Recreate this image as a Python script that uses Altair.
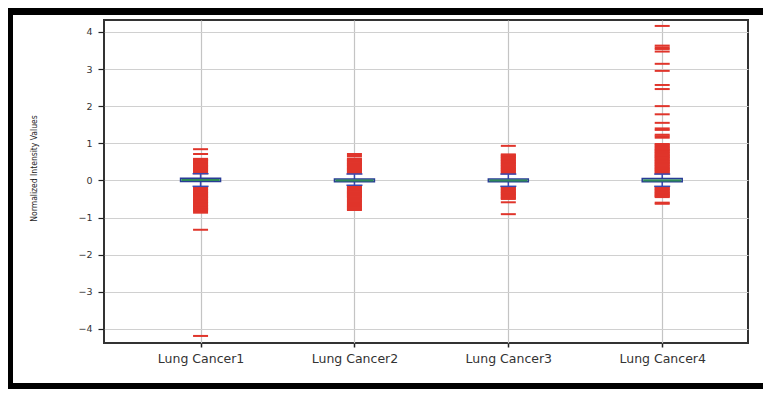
import altair as alt
import pandas as pd

categories = ["Lung Cancer1", "Lung Cancer2", "Lung Cancer3", "Lung Cancer4"]
q1 = [-0.03, -0.04, -0.04, -0.04]
median = [0.01, 0.0, 0.0, 0.0]
q3 = [0.06, 0.04, 0.04, 0.05]
whisk_lo = [-0.16, -0.13, -0.16, -0.16]
whisk_hi = [0.18, 0.17, 0.17, 0.17]

fliers1 = [0.19, 0.21, 0.24, 0.26, 0.28, 0.31, 0.33, 0.35, 0.38, 0.40, 0.42, 0.45,
           0.47, 0.49, 0.52, 0.54, 0.56, 0.58, 0.71, 0.84,
           -0.18, -0.20, -0.23, -0.25, -0.27, -0.30, -0.32, -0.34, -0.37, -0.39,
           -0.41, -0.44, -0.46, -0.48, -0.51, -0.53, -0.55, -0.58, -0.60, -0.62,
           -0.65, -0.67, -0.69, -0.72, -0.74, -0.76, -0.78, -0.80, -0.83, -0.87,
           -1.33, -4.19]
fliers2 = [0.19, 0.21, 0.24, 0.26, 0.28, 0.31, 0.33, 0.35, 0.38, 0.40, 0.42, 0.45,
           0.47, 0.49, 0.52, 0.54, 0.56, 0.59, 0.66, 0.71,
           -0.15, -0.17, -0.20, -0.22, -0.24, -0.27, -0.29, -0.31, -0.34, -0.36,
           -0.38, -0.41, -0.43, -0.45, -0.48, -0.52, -0.55, -0.58, -0.62, -0.65,
           -0.68, -0.71, -0.74, -0.77, -0.80]
fliers3 = [0.19, 0.21, 0.24, 0.26, 0.28, 0.31, 0.33, 0.35, 0.38, 0.40, 0.42, 0.45,
           0.47, 0.49, 0.52, 0.54, 0.56, 0.59, 0.61, 0.63, 0.66, 0.68, 0.70, 0.93,
           -0.18, -0.20, -0.23, -0.25, -0.27, -0.30, -0.32, -0.34, -0.37, -0.39,
           -0.41, -0.44, -0.46, -0.48, -0.50, -0.59, -0.91]
fliers4 = [0.19, 0.21, 0.24, 0.26, 0.28, 0.31, 0.33, 0.35, 0.38, 0.40, 0.42, 0.45,
           0.47, 0.49, 0.52, 0.54, 0.56, 0.59, 0.61, 0.63, 0.66, 0.68, 0.70, 0.73,
           0.75, 0.77, 0.80, 0.82, 0.84, 0.87, 0.90, 0.93, 0.96, 0.98,
           1.15, 1.19, 1.23, 1.36, 1.40, 1.55, 1.78, 2.00, 2.46, 2.57, 2.95, 3.14,
           3.47, 3.54, 3.58, 3.63, 4.16,
           -0.18, -0.20, -0.23, -0.25, -0.27, -0.30, -0.32, -0.34, -0.37, -0.39,
           -0.41, -0.43, -0.45, -0.60, -0.63]
all_fliers = [fliers1, fliers2, fliers3, fliers4]

stats = pd.DataFrame({
    "cat": categories,
    "pos": list(range(1, len(categories) + 1)),
    "q1": q1, "median": median, "q3": q3, "lo": whisk_lo, "hi": whisk_hi,
})
fl = pd.DataFrame([
    {"cat": c, "pos": i + 1, "v": v}
    for i, (c, vals) in enumerate(zip(categories, all_fliers))
    for v in vals
])

label_expr = "[" + ",".join(f"'{c}'" for c in categories) + "][datum.value - 1]"

xscale = alt.Scale(domain=[0.405, 4.525], nice=False, zero=False)
yscale = alt.Scale(domain=[-4.38, 4.32], nice=False, zero=False)

xenc = alt.X("pos:Q", scale=xscale, axis=alt.Axis(
    values=[1, 2, 3, 4], labelExpr=label_expr, title=None, grid=True,
    gridColor="#c4c4c4", gridWidth=1.2, domain=False, tickColor="#222",
    tickSize=4, tickWidth=1.5, labelFont="DejaVu Sans", labelFontSize=12.5,
    labelColor="#333", labelPadding=5))
yaxis = alt.Axis(
    values=[-4, -3, -2, -1, 0, 1, 2, 3, 4], format="d", grid=True,
    gridColor="#d0d0d0", gridWidth=1.2, domain=False, tickColor="#222",
    tickSize=6, tickWidth=1.2, labelFont="DejaVu Sans", labelFontSize=9.5,
    labelColor="#333", labelPadding=6,
    title="Normalized Intensity Values",
    titleFont="DejaVu Sans Condensed",
    titleFontSize=8.5, titleFontWeight="normal", titleColor="#222",
    titleAngle=270, titleX=-71, titleY=148, titleAlign="center",
    titleBaseline="middle")

red = "#e0352b"
blue = "#3848b0"

flier_layer = alt.Chart(fl).mark_tick(
    orient="horizontal", size=15, thickness=2, color=red, opacity=1
).encode(x=xenc, y=alt.Y("v:Q", scale=yscale, axis=yaxis))

base = alt.Chart(stats)
whisk_low = base.mark_rule(color=blue, strokeWidth=1.5).encode(
    x="pos:Q", y=alt.Y("lo:Q"), y2="q1:Q")
whisk_high = base.mark_rule(color=blue, strokeWidth=1.5).encode(
    x="pos:Q", y=alt.Y("q3:Q"), y2="hi:Q")
cap_low = base.mark_tick(orient="horizontal", size=16, thickness=1.5,
                         color=blue, opacity=1).encode(x="pos:Q", y="lo:Q")
cap_high = base.mark_tick(orient="horizontal", size=16, thickness=1.5,
                          color=blue, opacity=1).encode(x="pos:Q", y="hi:Q")
box = base.mark_bar(size=40, fill="#9fd0c0", stroke="#283c96",
                    strokeWidth=1.5).encode(x="pos:Q", y="q1:Q", y2="q3:Q")
med = base.mark_tick(orient="horizontal", size=38, thickness=2,
                     color="#2e8b57", opacity=1).encode(x="pos:Q", y="median:Q")

one = alt.Data(values=[{"a": 0}])
frame_top = alt.Chart(one).mark_rect(color="black").encode(
    x=alt.value(-96), x2=alt.value(659), y=alt.value(-12), y2=alt.value(-5))
frame_left = alt.Chart(one).mark_rect(color="black").encode(
    x=alt.value(-96), x2=alt.value(-91), y=alt.value(-12), y2=alt.value(369))
frame_bottom = alt.Chart(one).mark_rect(color="black").encode(
    x=alt.value(-96), x2=alt.value(659), y=alt.value(363), y2=alt.value(369))

chart = alt.layer(
    flier_layer, whisk_low, whisk_high, cap_low, cap_high, box, med,
    frame_top, frame_left, frame_bottom
).properties(
    width=644, height=323,
    autosize=alt.AutoSizeParams(type="none"),
    padding={"left": 96, "top": 12, "right": 15, "bottom": 46},
    background="white",
).configure_view(stroke="#333", strokeWidth=2)

chart.save("out.html", embed_options={"renderer": "svg", "actions": False})
